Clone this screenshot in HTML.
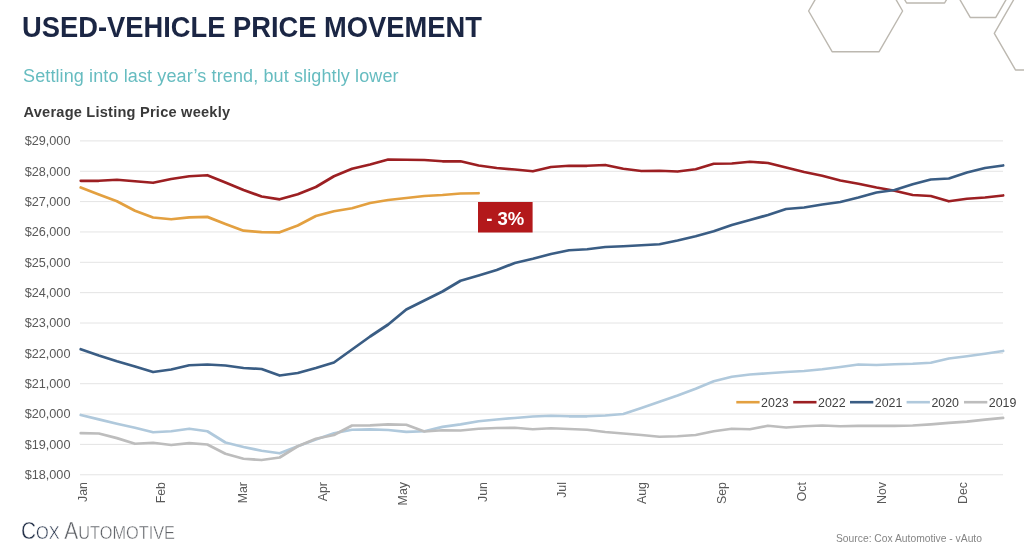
<!DOCTYPE html>
<html><head><meta charset="utf-8">
<style>
html,body{margin:0;padding:0;background:#fff;}
body{width:1024px;height:547px;position:relative;overflow:hidden;font-family:"Liberation Sans",sans-serif;filter:blur(0.35px);}
.t{position:absolute;white-space:nowrap;}
#title{left:22.3px;top:10.5px;font-size:28.6px;font-weight:bold;color:#1b2644;transform:scaleX(0.9554);transform-origin:0 0;}
#sub{left:23px;top:66.2px;font-size:18px;color:#66bcc0;letter-spacing:0.12px;}
#avg{left:23.5px;top:104.3px;font-size:14.6px;font-weight:bold;color:#3a3a3a;letter-spacing:0.22px;}
#src{left:836px;top:533px;font-size:10.3px;color:#858585;}
#logo{left:20.6px;top:516.6px;font-size:24.4px;color:#5e6166;transform-origin:0 0;transform:scaleX(0.855);-webkit-text-stroke:0.45px #fff;}
#logo b{font-weight:normal;color:#233048;}
svg{position:absolute;left:0;top:0;}
</style></head><body>
<svg width="1024" height="547" viewBox="0 0 1024 547">
<g fill="none" stroke="#bcb8b0" stroke-width="1.4" stroke-linejoin="round">
<polygon points="902.60,11.00 879.10,51.70 832.10,51.70 808.60,11.00 832.10,-29.70 879.10,-29.70"/>
<polygon points="963.60,-29.90 944.60,3.01 906.60,3.01 887.60,-29.90 906.60,-62.81 944.60,-62.81"/>
<polygon points="1008.60,-4.70 995.80,17.47 970.20,17.47 957.40,-4.70 970.20,-26.87 995.80,-26.87"/>
<polygon points="1078.90,33.30 1057.75,69.93 1015.45,69.93 994.30,33.30 1015.45,-3.33 1057.75,-3.33"/>
</g>
<g stroke="#e4e4e4" stroke-width="1">
<line x1="80" y1="140.90" x2="1003" y2="140.90"/>
<line x1="80" y1="171.25" x2="1003" y2="171.25"/>
<line x1="80" y1="201.60" x2="1003" y2="201.60"/>
<line x1="80" y1="231.95" x2="1003" y2="231.95"/>
<line x1="80" y1="262.30" x2="1003" y2="262.30"/>
<line x1="80" y1="292.65" x2="1003" y2="292.65"/>
<line x1="80" y1="323.00" x2="1003" y2="323.00"/>
<line x1="80" y1="353.35" x2="1003" y2="353.35"/>
<line x1="80" y1="383.70" x2="1003" y2="383.70"/>
<line x1="80" y1="414.05" x2="1003" y2="414.05"/>
<line x1="80" y1="444.40" x2="1003" y2="444.40"/>
<line x1="80" y1="474.75" x2="1003" y2="474.75"/>
</g>
<g font-family="Liberation Sans" font-size="12.7" fill="#595959" text-anchor="end">
<text x="70.5" y="145.30">$29,000</text>
<text x="70.5" y="175.65">$28,000</text>
<text x="70.5" y="206.00">$27,000</text>
<text x="70.5" y="236.35">$26,000</text>
<text x="70.5" y="266.70">$25,000</text>
<text x="70.5" y="297.05">$24,000</text>
<text x="70.5" y="327.40">$23,000</text>
<text x="70.5" y="357.75">$22,000</text>
<text x="70.5" y="388.10">$21,000</text>
<text x="70.5" y="418.45">$20,000</text>
<text x="70.5" y="448.80">$19,000</text>
<text x="70.5" y="479.15">$18,000</text>
</g>
<g font-family="Liberation Sans" font-size="12.4" fill="#595959" text-anchor="end">
<text transform="translate(87.20,482) rotate(-90)" x="0" y="0">Jan</text>
<text transform="translate(165.30,482) rotate(-90)" x="0" y="0">Feb</text>
<text transform="translate(246.50,482) rotate(-90)" x="0" y="0">Mar</text>
<text transform="translate(326.50,482) rotate(-90)" x="0" y="0">Apr</text>
<text transform="translate(406.80,482) rotate(-90)" x="0" y="0">May</text>
<text transform="translate(486.50,482) rotate(-90)" x="0" y="0">Jun</text>
<text transform="translate(565.80,482) rotate(-90)" x="0" y="0">Jul</text>
<text transform="translate(645.80,482) rotate(-90)" x="0" y="0">Aug</text>
<text transform="translate(726.30,482) rotate(-90)" x="0" y="0">Sep</text>
<text transform="translate(806.30,482) rotate(-90)" x="0" y="0">Oct</text>
<text transform="translate(885.80,482) rotate(-90)" x="0" y="0">Nov</text>
<text transform="translate(966.50,482) rotate(-90)" x="0" y="0">Dec</text>
</g>
<g fill="none" stroke-width="2.75" stroke-linejoin="round" stroke-linecap="round">
<polyline stroke="#e3a040" points="80.75,187.50 98.84,194.50 116.92,201.25 135.00,210.75 153.09,217.50 171.18,219.25 189.26,217.30 207.34,216.90 225.43,224.00 243.52,230.70 261.60,232.20 279.69,232.30 297.77,225.50 315.86,216.00 333.94,211.25 352.03,208.25 370.11,203.00 388.19,200.00 406.28,198.00 424.37,196.00 442.45,195.00 460.54,193.50 478.62,193.25"/>
<polyline stroke="#9c1f22" points="80.75,180.75 98.84,180.75 116.92,179.75 135.00,181.25 153.09,182.75 171.18,179.00 189.26,176.25 207.34,175.25 225.43,182.50 243.52,190.00 261.60,196.50 279.69,199.30 297.77,194.25 315.86,187.00 333.94,176.25 352.03,168.75 370.11,164.50 388.19,159.50 406.28,159.75 424.37,160.00 442.45,161.25 460.54,161.25 478.62,165.50 496.71,168.00 514.79,169.50 532.88,171.25 550.96,167.00 569.05,165.75 587.13,165.75 605.22,165.00 623.30,168.75 641.38,171.00 659.47,170.75 677.56,171.50 695.64,169.25 713.73,163.75 731.81,163.50 749.89,161.75 767.98,163.00 786.07,167.50 804.15,172.00 822.24,175.75 840.32,180.50 858.41,183.75 876.49,187.50 894.58,190.75 912.66,195.00 930.75,196.00 948.83,201.25 966.92,198.75 985.00,197.50 1003.09,195.50"/>
<polyline stroke="#3a5d84" points="80.75,349.25 98.84,355.50 116.92,361.25 135.00,366.50 153.09,372.00 171.18,369.50 189.26,365.25 207.34,364.50 225.43,365.50 243.52,368.00 261.60,369.00 279.69,375.50 297.77,373.00 315.86,368.00 333.94,362.50 352.03,349.50 370.11,336.50 388.19,324.50 406.28,309.50 424.37,300.50 442.45,291.50 460.54,280.75 478.62,275.50 496.71,270.00 514.79,263.00 532.88,258.75 550.96,254.00 569.05,250.25 587.13,249.25 605.22,247.00 623.30,246.25 641.38,245.25 659.47,244.25 677.56,240.50 695.64,236.25 713.73,231.25 731.81,225.00 749.89,220.00 767.98,215.00 786.07,209.00 804.15,207.50 822.24,204.50 840.32,202.00 858.41,197.50 876.49,192.50 894.58,190.00 912.66,184.25 930.75,179.50 948.83,178.50 966.92,172.50 985.00,168.00 1003.09,165.50"/>
<polyline stroke="#b0c9dc" points="80.75,415.00 98.84,419.40 116.92,423.75 135.00,427.75 153.09,432.25 171.18,431.25 189.26,428.75 207.34,431.25 225.43,442.50 243.52,447.00 261.60,450.75 279.69,453.25 297.77,446.25 315.86,439.50 333.94,433.25 352.03,429.75 370.11,429.40 388.19,430.00 406.28,431.90 424.37,431.25 442.45,426.90 460.54,424.40 478.62,421.25 496.71,419.50 514.79,418.00 532.88,416.50 550.96,415.75 569.05,416.25 587.13,416.25 605.22,415.50 623.30,414.00 641.38,408.00 659.47,401.75 677.56,395.50 695.64,388.75 713.73,381.25 731.81,376.75 749.89,374.50 767.98,373.25 786.07,372.00 804.15,371.00 822.24,369.25 840.32,367.00 858.41,364.50 876.49,365.00 894.58,364.25 912.66,363.75 930.75,362.75 948.83,358.50 966.92,356.25 985.00,353.75 1003.09,351.00"/>
<polyline stroke="#bdbdbd" points="80.75,433.10 98.84,433.50 116.92,438.10 135.00,443.75 153.09,442.75 171.18,445.00 189.26,443.20 207.34,444.50 225.43,453.75 243.52,458.75 261.60,460.00 279.69,457.50 297.77,446.25 315.86,438.75 333.94,435.00 352.03,425.50 370.11,425.40 388.19,424.40 406.28,424.75 424.37,431.50 442.45,430.25 460.54,430.50 478.62,428.75 496.71,428.00 514.79,427.75 532.88,429.25 550.96,428.25 569.05,429.00 587.13,429.75 605.22,432.00 623.30,433.50 641.38,435.00 659.47,436.75 677.56,436.25 695.64,435.00 713.73,431.25 731.81,428.75 749.89,429.25 767.98,425.75 786.07,427.50 804.15,426.25 822.24,425.50 840.32,426.25 858.41,425.90 876.49,425.90 894.58,425.90 912.66,425.50 930.75,424.40 948.83,422.90 966.92,421.60 985.00,419.70 1003.09,417.80"/>
</g>
<g font-family="Liberation Sans" font-size="12.4" fill="#404040">
<line x1="736.3" y1="402.2" x2="759.6" y2="402.2" stroke="#e3a040" stroke-width="2.6"/>
<text x="761.1" y="406.8">2023</text>
<line x1="793.2" y1="402.2" x2="816.5" y2="402.2" stroke="#9c1f22" stroke-width="2.6"/>
<text x="818.0" y="406.8">2022</text>
<line x1="850.0" y1="402.2" x2="873.3" y2="402.2" stroke="#3a5d84" stroke-width="2.6"/>
<text x="874.8" y="406.8">2021</text>
<line x1="906.6" y1="402.2" x2="929.9" y2="402.2" stroke="#b0c9dc" stroke-width="2.6"/>
<text x="931.4" y="406.8">2020</text>
<line x1="964.0" y1="402.2" x2="987.3" y2="402.2" stroke="#bdbdbd" stroke-width="2.6"/>
<text x="988.8" y="406.8">2019</text>
</g>
<rect x="478" y="202" width="54.6" height="30.5" fill="#b3191b"/>
<text x="505.3" y="224.8" font-family="Liberation Sans" font-weight="bold" font-size="18.5" fill="#fff" text-anchor="middle">- 3%</text>
</svg>
<div class="t" id="title">USED-VEHICLE PRICE MOVEMENT</div>
<div class="t" id="sub">Settling into last year&#8217;s trend, but slightly lower</div>
<div class="t" id="avg">Average Listing Price weekly</div>
<div class="t" id="logo"><b>C<span style="font-size:19.1px">OX</span></b> A<span style="font-size:19.1px">UTOMOTIVE</span></div>
<div class="t" id="src">Source: Cox Automotive - vAuto</div>
</body></html>
